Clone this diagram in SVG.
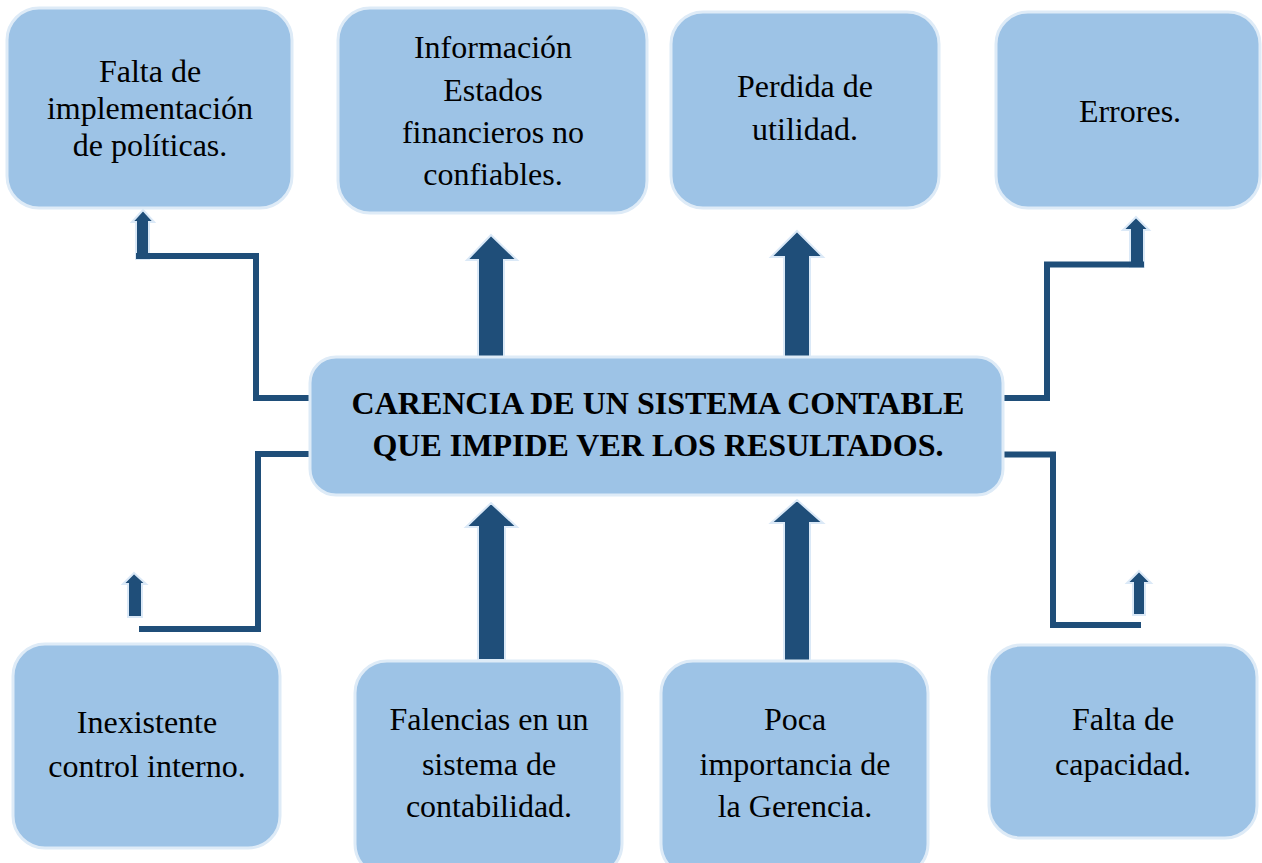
<svg xmlns="http://www.w3.org/2000/svg" width="1262" height="863" viewBox="0 0 1262 863">
<style>
.box{fill:#9dc3e6;stroke:#deebf7;stroke-width:3}
.t{font-family:"Liberation Serif","Times New Roman",serif;font-size:32px;fill:#000;text-anchor:middle}
.b{font-weight:bold}
.ln{fill:none;stroke:#1f4e79;stroke-width:6;stroke-linejoin:miter}
.ar{fill:#1f4e79;stroke:#dbe9f7;stroke-width:2;stroke-linejoin:miter}
</style>
<rect width="1262" height="863" fill="#ffffff"/>
<g id="connectors">
  <polygon class="ar" points="143,210 154,222 149,222 149,259 136,259 136,222 132,222"/>
  <path class="ln" d="M310,398 H256 V256 H136"/>
  <polygon class="ar" points="1136,217 1149,230 1144,230 1144,267 1130,267 1130,230 1123,230"/>
  <path class="ln" d="M1004,398 H1047 V264.5 H1144"/>
  <polygon class="ar" points="134,573 146,584 142,584 142,617 128,617 128,584 123,584"/>
  <path class="ln" d="M310,454 H258 V629 H139"/>
  <polygon class="ar" points="1139,571 1151,583 1145,583 1145,615 1133,615 1133,583 1127,583"/>
  <path class="ln" d="M1004,454.5 H1053 V625 H1141"/>
  <polygon class="ar" points="491,235 517,260 504,260 504,358 478,358 478,260 467,260"/>
  <polygon class="ar" points="797,231 823,257 810,257 810,358 784,358 784,257 771,257"/>
  <polygon class="ar" points="491,503 517,527 505,527 505,660 478,660 478,527 466,527"/>
  <polygon class="ar" points="797,500 823,523 810,523 810,662 784,662 784,523 771,523"/>
</g>
<g id="n1"><rect class="box" x="7" y="8" width="285" height="200" rx="32"/>
<text class="t" x="150" y="82">Falta de</text><text class="t" x="150" y="119">implementación</text><text class="t" x="150" y="156">de políticas.</text></g>
<g id="n2"><rect class="box" x="338" y="8" width="309" height="205" rx="32"/>
<text class="t" x="493" y="58">Información</text><text class="t" x="493" y="101">Estados</text><text class="t" x="493" y="143">financieros no</text><text class="t" x="493" y="185">confiables.</text></g>
<g id="n3"><rect class="box" x="671" y="12" width="268" height="196" rx="32"/>
<text class="t" x="805" y="97">Perdida de</text><text class="t" x="805" y="140">utilidad.</text></g>
<g id="n4"><rect class="box" x="996" y="12" width="264" height="196" rx="32"/>
<text class="t" x="1130" y="122">Errores.</text></g>
<g id="center"><rect class="box" x="310" y="357" width="693" height="138" rx="26"/>
<text class="t b" x="658" y="414">CARENCIA DE UN SISTEMA CONTABLE</text><text class="t b" x="658" y="456">QUE IMPIDE VER LOS RESULTADOS.</text></g>
<g id="n5"><rect class="box" x="13" y="644" width="267" height="204" rx="32"/>
<text class="t" x="147" y="733">Inexistente</text><text class="t" x="147" y="777">control interno.</text></g>
<g id="n6"><rect class="box" x="355" y="661" width="267" height="215" rx="32"/>
<text class="t" x="489" y="730">Falencias en un</text><text class="t" x="489" y="775">sistema de</text><text class="t" x="489" y="817">contabilidad.</text></g>
<g id="n7"><rect class="box" x="661" y="661" width="267" height="215" rx="32"/>
<text class="t" x="795" y="730">Poca</text><text class="t" x="795" y="775">importancia de</text><text class="t" x="795" y="817">la Gerencia.</text></g>
<g id="n8"><rect class="box" x="989" y="645" width="268" height="193" rx="32"/>
<text class="t" x="1123" y="730">Falta de</text><text class="t" x="1123" y="775">capacidad.</text></g>
</svg>
